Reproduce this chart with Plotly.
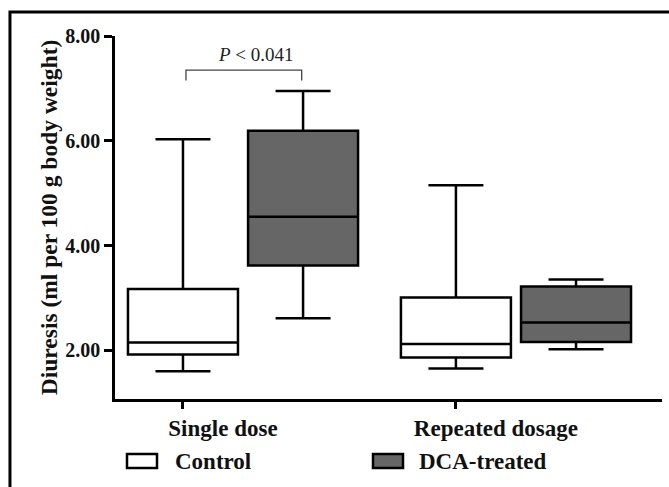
import plotly.graph_objects as go

# ---- data ----
categories = ["Single dose", "Repeated dosage"]
cat_pos = [0, 1]
group_offset = 0.44

control_lower = [1.60, 1.65]
control_q1 = [1.92, 1.86]
control_median = [2.15, 2.12]
control_q3 = [3.17, 3.01]
control_upper = [6.03, 5.15]

dca_lower = [2.61, 2.02]
dca_q1 = [3.62, 2.16]
dca_median = [4.55, 2.53]
dca_q3 = [6.19, 3.22]
dca_upper = [6.95, 3.35]

y_ticks = [2, 4, 6, 8]
p_text = "<i>P</i> &lt; 0.041"
bracket_x = [0.011, 0.435]
bracket_y = [7.15, 7.35]

FONT = "'Liberation Serif', 'Times New Roman', Times, serif"

fig = go.Figure()
fig.add_trace(go.Box(
    name="Control", x=cat_pos,
    q1=control_q1, median=control_median, q3=control_q3,
    lowerfence=control_lower, upperfence=control_upper,
    fillcolor="white", line=dict(color="black", width=2.5),
    width=0.403, whiskerwidth=0.5, boxpoints=False, showlegend=False,
))
fig.add_trace(go.Box(
    name="DCA-treated", x=[p + group_offset for p in cat_pos],
    q1=dca_q1, median=dca_median, q3=dca_q3,
    lowerfence=dca_lower, upperfence=dca_upper,
    fillcolor="#666666", line=dict(color="black", width=2.5),
    width=0.403, whiskerwidth=0.5, boxpoints=False, showlegend=False,
))

# significance bracket
fig.add_shape(type="path", xref="x", yref="y",
              path=f"M{bracket_x[0]},{bracket_y[0]} L{bracket_x[0]},{bracket_y[1]} "
                   f"L{bracket_x[1]},{bracket_y[1]} L{bracket_x[1]},{bracket_y[0]}",
              line=dict(color="#444444", width=1.3))
fig.add_annotation(x=(bracket_x[0] + bracket_x[1]) / 2, y=bracket_y[1], yshift=3, xshift=12,
                   xref="x", yref="y", text=p_text, showarrow=False,
                   yanchor="bottom",
                   font=dict(family=FONT, size=19, color="#222222"))

# figure frame (top and left edges visible)
fig.add_shape(type="rect", xref="paper", yref="paper",
              x0=-0.192, x1=1.3, y0=-0.3, y1=1.066,
              line=dict(color="black", width=3), layer="above")

# custom legend
W, H, L, T = 547, 363, 115, 36
def px(xp):
    return (xp - L) / W
def py(yp):
    return (T + H - yp) / H

legend_items = [("Control", "white", 127, 173), ("DCA-treated", "#666666", 373, 417)]
for label, fill, x0, tx in legend_items:
    fig.add_shape(type="rect", xref="paper", yref="paper",
                  x0=px(x0), x1=px(x0 + 30), y0=py(468), y1=py(454),
                  fillcolor=fill, line=dict(color="black", width=2.5))
    fig.add_annotation(xref="paper", yref="paper", x=px(tx), y=py(461),
                       text=label, showarrow=False, xanchor="left", yanchor="middle",
                       font=dict(family=FONT, size=23, color="#111111", weight="bold"))

fig.update_layout(
    width=669, height=487,
    margin=dict(l=115, r=7, t=36, b=88),
    paper_bgcolor="white", plot_bgcolor="white",
    font=dict(family=FONT, color="#111111"),
    xaxis=dict(range=[-0.249, 1.755], tickvals=cat_pos, ticktext=categories,
               showline=True, linecolor="black", linewidth=2.5,
               ticks="outside", ticklen=7, tickwidth=2.5, tickcolor="black",
               showgrid=False, zeroline=False, ticklabelshift=40,
               tickfont=dict(family=FONT, size=23, color="#111111", weight="bold")),
    yaxis=dict(range=[1.07, 8.0], tickvals=y_ticks, tickformat=".2f",
               showline=True, linecolor="black", linewidth=2.5,
               ticks="outside", ticklen=8, tickwidth=2.5, tickcolor="black",
               showgrid=False, zeroline=False,
               tickfont=dict(family=FONT, size=20, color="#111111", weight="bold"),
               title=dict(text="Diuresis (ml per 100 g body weight)",
                          font=dict(family=FONT, size=23.5, color="#111111", weight="bold"),
                          standoff=2)),
)

fig.write_html("out.html")
